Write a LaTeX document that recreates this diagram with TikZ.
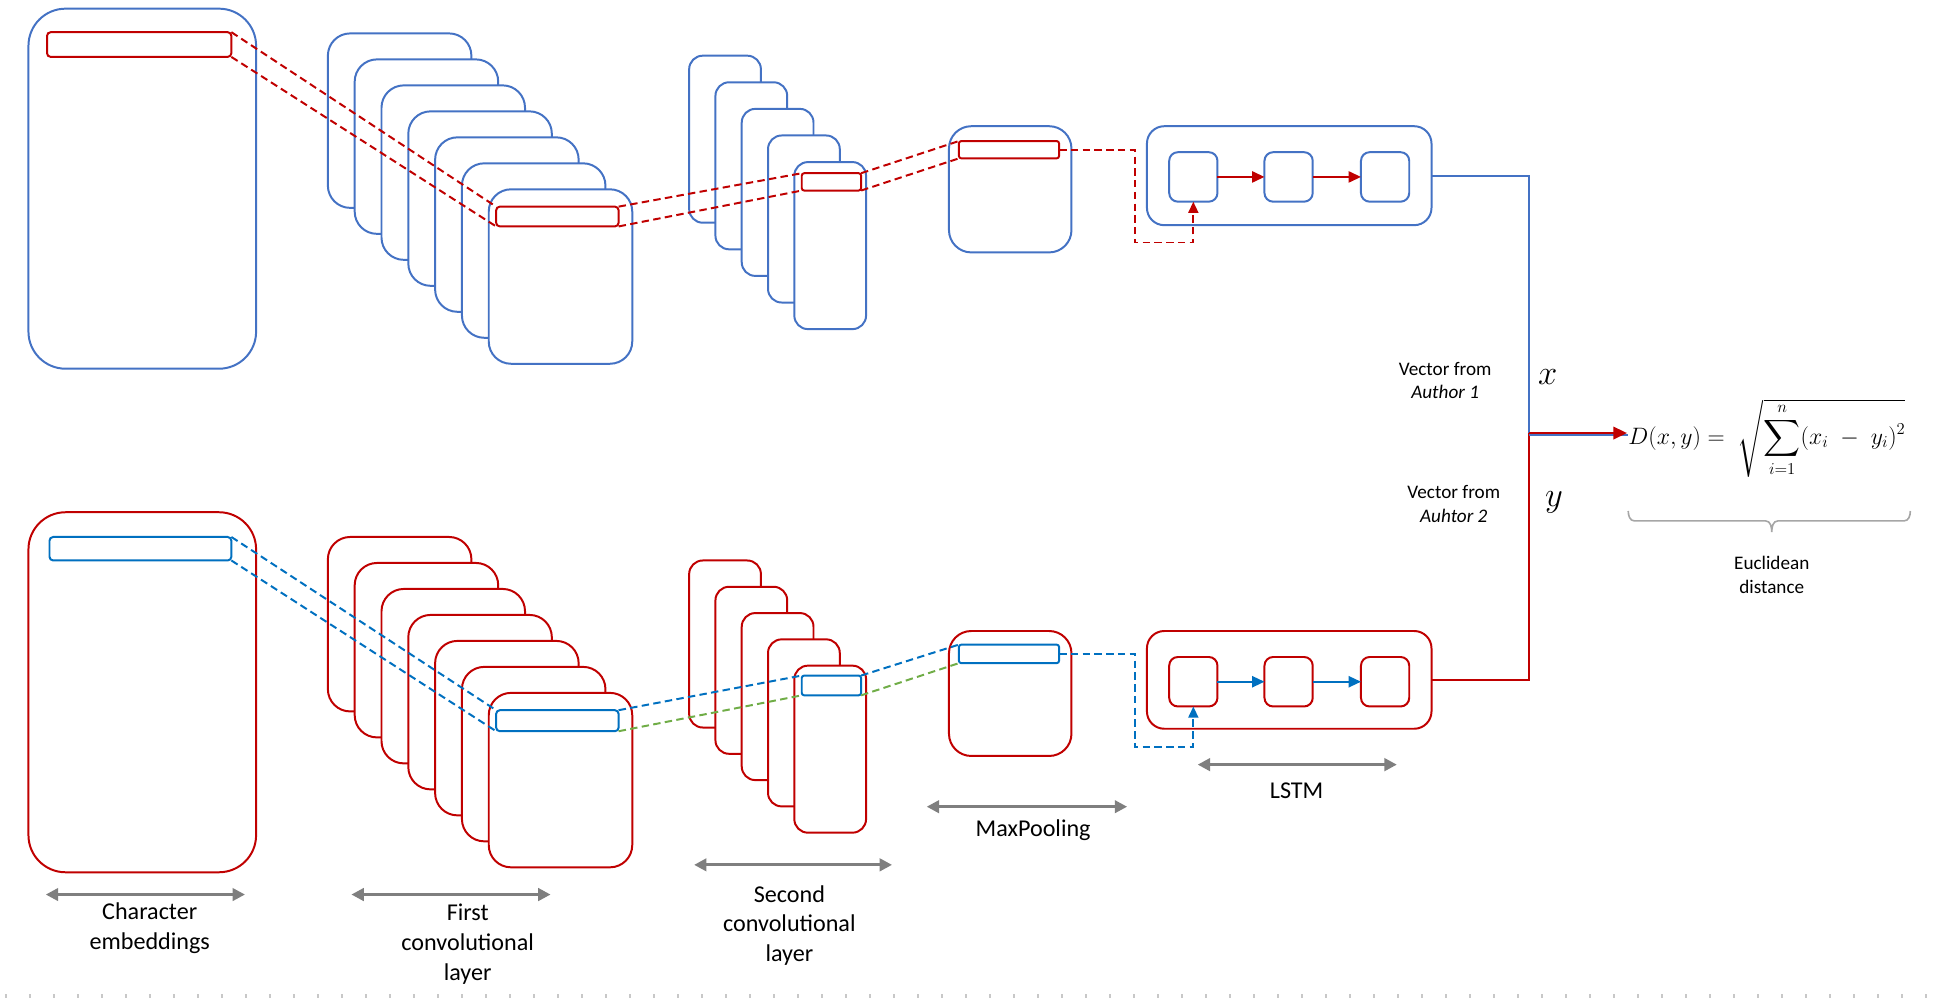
\RequirePackage{fix-cm}
\documentclass[tikz,border=0pt]{standalone}
\usepackage{exscale}
\usepackage{fontspec}
\setmainfont{Carlito}
\usetikzlibrary{arrows.meta}

\definecolor{boxblue}{HTML}{4472C4}
\definecolor{hlred}{HTML}{C00000}
\definecolor{hlblue}{HTML}{0070C0}
\definecolor{hlgreen}{HTML}{70AD47}
\definecolor{spangray}{HTML}{7F7F7F}
\definecolor{bracegray}{HTML}{A6A6A6}
\definecolor{tickgray}{HTML}{C8C8C8}

\tikzset{
  card/.style={draw, fill=white, line width=1.6pt, inner sep=0pt, outer sep=0pt, anchor=north west},
  dashlink/.style={line width=1.6pt, dash pattern=on 6pt off 3.5pt},
  flowarrow/.style={line width=1.6pt, -{Triangle[length=10pt,width=9pt]}},
  widtharrow/.style={draw=spangray, line width=2.4pt,
    {Triangle[length=10pt,width=10pt]}-{Triangle[length=10pt,width=10pt]}},
  layername/.style={font=\fontsize{19.5}{24}\selectfont, align=center, inner sep=0pt},
  notetext/.style={font=\fontsize{15.5}{19}\selectfont, align=center, inner sep=0pt},
}

\begin{document}
\begin{tikzpicture}[x=1pt,y=-1pt]
\useasboundingbox (0,0) rectangle (1568,807);

% ---------------- upper branch (Author 1) ----------------
\node[card, draw=boxblue, rounded corners=30pt, minimum width=184pt, minimum height=291pt] (embA) at (23,7) {};
\node[card, draw=hlred, rounded corners=3pt, minimum width=149pt, minimum height=20pt] (embAbar) at (38,26) {};

\foreach \k in {0,...,6}
  \node[card, draw=boxblue, rounded corners=18pt, minimum width=116pt, minimum height=141pt]
    (convAone\k) at ({265+21.67*\k},{27+21*\k}) {};
\node[card, draw=hlred, rounded corners=3pt, minimum width=99pt, minimum height=16pt] (convAonebar) at (401,167) {};

\foreach \k in {0,...,4}
  \node[card, draw=boxblue, rounded corners=11pt, minimum width=58pt, minimum height=135pt]
    (convAtwo\k) at ({557+21.25*\k},{45+21.5*\k}) {};
\node[card, draw=hlred, rounded corners=2pt, minimum width=48pt, minimum height=14pt] (convAtwobar) at (648,140) {};

\node[card, draw=boxblue, rounded corners=18pt, minimum width=99pt, minimum height=102pt] (poolA) at (767,102) {};
\node[card, draw=hlred, rounded corners=2pt, minimum width=81pt, minimum height=14pt] (poolAbar) at (775,114) {};

\node[card, draw=boxblue, rounded corners=14pt, minimum width=230pt, minimum height=80pt] (lstmA) at (927,102) {};
\node[card, draw=boxblue, rounded corners=7pt, minimum width=39pt, minimum height=40pt] (cellAone) at (945,123) {};
\node[card, draw=boxblue, rounded corners=7pt, minimum width=39pt, minimum height=40pt] (cellAtwo) at (1022,123) {};
\node[card, draw=boxblue, rounded corners=7pt, minimum width=39pt, minimum height=40pt] (cellAthree) at (1100,123) {};

\draw[dashlink, hlred] (embAbar.north east) -- (convAonebar.north west);
\draw[dashlink, hlred] (embAbar.south east) -- (convAonebar.south west);
\draw[dashlink, hlred] (convAonebar.north east) -- (convAtwobar.north west);
\draw[dashlink, hlred] (convAonebar.south east) -- (convAtwobar.south west);
\draw[dashlink, hlred] (convAtwobar.north east) -- (poolAbar.north west);
\draw[dashlink, hlred] (convAtwobar.south east) -- (poolAbar.south west);
\draw[dashlink, hlred, -{Triangle[length=9pt,width=8pt]}]
  (poolAbar.east) -- ++(61,0) -- ++(0,75) -| (cellAone.south);
\draw[flowarrow, hlred] (cellAone.east) -- (cellAtwo.west);
\draw[flowarrow, hlred] (cellAtwo.east) -- (cellAthree.west);

% ---------------- lower branch (Author 2) ----------------
\node[card, draw=hlred, rounded corners=30pt, minimum width=184pt, minimum height=291pt] (embB) at (23,414) {};
\node[card, draw=hlblue, rounded corners=3pt, minimum width=147pt, minimum height=19pt] (embBbar) at (40,434) {};

\foreach \k in {0,...,6}
  \node[card, draw=hlred, rounded corners=18pt, minimum width=116pt, minimum height=141pt]
    (convBone\k) at ({265+21.67*\k},{434+21*\k}) {};
\node[card, draw=hlblue, rounded corners=3pt, minimum width=99pt, minimum height=17pt] (convBonebar) at (401,574) {};

\foreach \k in {0,...,4}
  \node[card, draw=hlred, rounded corners=11pt, minimum width=58pt, minimum height=135pt]
    (convBtwo\k) at ({557+21.25*\k},{453+21.25*\k}) {};
\node[card, draw=hlblue, rounded corners=2pt, minimum width=48pt, minimum height=16pt] (convBtwobar) at (648,546) {};

\node[card, draw=hlred, rounded corners=18pt, minimum width=99pt, minimum height=101pt] (poolB) at (767,510) {};
\node[card, draw=hlblue, rounded corners=2pt, minimum width=81pt, minimum height=15pt] (poolBbar) at (775,521) {};

\node[card, draw=hlred, rounded corners=14pt, minimum width=230pt, minimum height=79pt] (lstmB) at (927,510) {};
\node[card, draw=hlred, rounded corners=7pt, minimum width=39pt, minimum height=40pt] (cellBone) at (945,531) {};
\node[card, draw=hlred, rounded corners=7pt, minimum width=39pt, minimum height=40pt] (cellBtwo) at (1022,531) {};
\node[card, draw=hlred, rounded corners=7pt, minimum width=39pt, minimum height=40pt] (cellBthree) at (1100,531) {};

\draw[dashlink, hlblue] (embBbar.north east) -- (convBonebar.north west);
\draw[dashlink, hlblue] (embBbar.south east) -- (convBonebar.south west);
\draw[dashlink, hlblue] (convBonebar.north east) -- (convBtwobar.north west);
\draw[dashlink, hlgreen] (convBonebar.south east) -- (convBtwobar.south west);
\draw[dashlink, hlblue] (convBtwobar.north east) -- (poolBbar.north west);
\draw[dashlink, hlgreen] (convBtwobar.south east) -- (poolBbar.south west);
\draw[dashlink, hlblue, -{Triangle[length=9pt,width=8pt]}]
  (poolBbar.east) -- ++(61,0) -- ++(0,75) -| (cellBone.south);
\draw[flowarrow, hlblue] (cellBone.east) -- (cellBtwo.west);
\draw[flowarrow, hlblue] (cellBtwo.east) -- (cellBthree.west);

% ---------------- distance ----------------
\coordinate (junction) at (1236,350);
\node[anchor=base west, inner sep=0pt, font=\fontsize{19.2}{23}\selectfont] (dist) at (1316,359)
  {$D(x,y) = \;\sqrt{\displaystyle\sum_{i=1}^{n}(x_i\;-\;y_i)^2}$};

\draw[boxblue, line width=1.6pt] (lstmA.east) -| (junction);
\draw[hlred, line width=1.6pt] (lstmB.east) -| (junction);
\draw[boxblue, line width=1.6pt] ([yshift=-1.6pt]junction) -- ([yshift=-1.6pt]junction -| dist.west);
\draw[hlred, line width=1.8pt, -{Triangle[length=11pt,width=10pt]}, shorten >=1pt] (junction) -- (junction -| dist.west);

\node[notetext] (vecA) at (1168,307.5) {Vector from\\\textit{Author 1}};
\node[notetext] (vecB) at (1175,407.5) {Vector from\\\textit{Auhtor 2}};
\node[inner sep=0pt, font=\fontsize{28}{28}\selectfont] (xlab) at (1251,305) {$x$};
\node[inner sep=0pt, font=\fontsize{28}{28}\selectfont] (ylab) at (1256,406) {$y$};

\draw[bracegray, line width=1.3pt]
  (1316,413) to[out=-90,in=180] (1321,421) -- (1427,421) to[out=0,in=90] (1432,430)
  to[out=90,in=180] (1437,421) -- (1539,421) to[out=0,in=-90] (1544,413);
\node[notetext] (euclid) at (1432,464.5) {Euclidean\\distance};

% ---------------- layer spans ----------------
\draw[widtharrow] (37,723) -- (198,723);
\node[layername] (lblEmb) at (121,750) {Character\\embeddings};
\draw[widtharrow] (284,723) -- (445,723);
\node[layername] (lblConvOne) at (378,763) {First\\convolutional\\layer};
\draw[widtharrow] (561,699) -- (721,699);
\node[layername] (lblConvTwo) at (638,748) {Second\\convolutional\\layer};
\draw[widtharrow] (749,652) -- (911,652);
\node[layername] (lblPool) at (835,671) {MaxPooling};
\draw[widtharrow] (968,618) -- (1129,618);
\node[layername] (lblLstm) at (1048,639) {LSTM};

% page edge ticks
\draw[tickgray, line width=4pt, dash pattern=on 1.8pt off 17.6pt] (4,805) -- (1568,805);
\end{tikzpicture}
\end{document}
